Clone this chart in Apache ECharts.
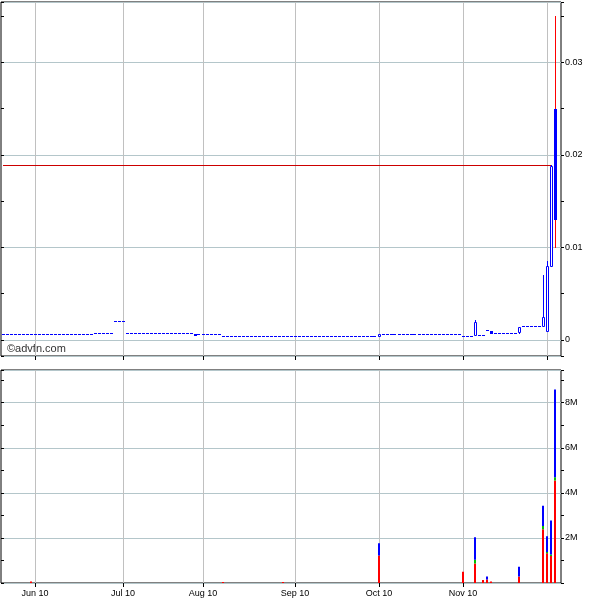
<!DOCTYPE html>
<html><head><meta charset="utf-8">
<script src="https://cdn.jsdelivr.net/npm/echarts@6/dist/echarts.min.js"></script>
<style>html,body{margin:0;padding:0;background:#fff}#c{width:600px;height:600px}</style>
</head><body><div id="c"></div>
<script>
// ---- categories: trading days ----
const startDate = '2010-05-19';
const endDate = '2010-12-06';
const holidays = ['2010-05-31', '2010-07-05', '2010-09-06', '2010-11-25'];

// month grid lines and their labels
const monthLines = ['2010-06-01', '2010-07-01', '2010-07-30', '2010-09-01', '2010-10-01', '2010-11-01', '2010-12-01'];
const monthLabels = ['Jun 10', 'Jul 10', 'Aug 10', 'Sep 10', 'Oct 10', 'Nov 10', ''];

// ---- price: close per trading day (from 2010-05-19) ----
const closes = [
  0.00057, 0.00057, 0.00057, 0.00057, 0.00057, 0.00057, 0.00057, 0.00057, 0.00057, 0.00057,
  0.00057, 0.00057, 0.00057, 0.00057, 0.00057, 0.00057, 0.00057, 0.00057, 0.00057, 0.00057,
  0.00057, 0.00057, 0.00057,
  0.0006, 0.0006, 0.0006, 0.0006, 0.0006,
  0.0019, 0.0019, 0.0019,
  0.00065, 0.00065, 0.00065, 0.00065, 0.00065, 0.00065, 0.00065, 0.00065, 0.00065, 0.00065,
  0.00065, 0.00065, 0.00065, 0.00065, 0.00065, 0.00065, 0.00065,
  0.0006,
  0.00054, 0.00054, 0.00054, 0.00054, 0.00054, 0.00054,
  0.0003, 0.0003, 0.0003, 0.0003, 0.0003, 0.0003, 0.0003, 0.0003, 0.0003, 0.0003,
  0.0003, 0.0003, 0.0003, 0.0003, 0.0003, 0.0003, 0.0003, 0.0003, 0.0003, 0.0003,
  0.0003, 0.0003, 0.0003, 0.0003, 0.0003, 0.0003, 0.0003, 0.0003, 0.0003, 0.0003,
  0.0003, 0.0003, 0.0003, 0.0003, 0.0003, 0.0003, 0.0003, 0.0003, 0.0003,
  0.0006,
  0.00057, 0.00057, 0.00057, 0.00057, 0.00057,
  0.0005, 0.0005, 0.0005, 0.0005, 0.0005, 0.0005, 0.0005, 0.0005, 0.0005, 0.0005,
  0.0005, 0.0005, 0.0005, 0.0005, 0.0005,
  0.0003, 0.0003, 0.0003,
  0.0019,
  0.00043, 0.00043,
  0.00097,
  0.0006,
  0.00065, 0.00065, 0.00065, 0.00065, 0.00065, 0.00065,
  0.00137,
  0.00144, 0.00144, 0.00144, 0.00144, 0.00144,
  0.0025,
  0.008,
  0.0188,
  0.013
];
// days whose open/high/low differ from the close
const oddDays = ['2010-07-28', '2010-10-01', '2010-11-04', '2010-11-10', '2010-11-19', '2010-11-30', '2010-12-01', '2010-12-02', '2010-12-03'];
const oddOpen = [0.0007, 0.0003, 0.0004, 0.00097, 0.0008, 0.00137, 0.0009, 0.0079, 0.025];
const oddHigh = [0.0007, 0.0006, 0.0022, 0.00097, 0.00137, 0.007, 0.0085, 0.0189, 0.035];
const oddLow  = [0.0006, 0.0003, 0.0004, 0.0006, 0.0006, 0.00137, 0.0009, 0.0079, 0.00995];
const refLine = 0.0189;
const refLineEnd = '2010-12-02';

// ---- volume (millions) ----
const volDays  = ['2010-05-28', '2010-08-06', '2010-08-27', '2010-10-01', '2010-11-01', '2010-11-04', '2010-11-08', '2010-11-09', '2010-11-10', '2010-11-19', '2010-11-30', '2010-12-01', '2010-12-02', '2010-12-03'];
const volRed   = [0.07, 0.03, 0.03, 1.22, 0.50, 0.87, 0.13, 0.16, 0.07, 0.29, 2.38, 1.32, 1.20, 4.55];
const volGreen = [0, 0, 0, 0, 0, 0.16, 0, 0, 0, 0, 0.15, 0.06, 0.06, 0.14];
const volBlue  = [0, 0, 0, 0.54, 0, 1.00, 0, 0.13, 0, 0.43, 0.90, 0.69, 1.51, 3.90];

// ---- build categories ----
function fmt(d) { return d.toISOString().slice(0, 10); }
const dates = [];
for (let d = new Date(startDate + 'T00:00:00Z'); fmt(d) <= endDate; d.setUTCDate(d.getUTCDate() + 1)) {
  const wd = d.getUTCDay();
  const s = fmt(d);
  if (wd !== 0 && wd !== 6 && holidays.indexOf(s) < 0) dates.push(s);
}

const BLUE = '#0000ff', RED = '#ff0000', GREEN = '#00c000';

const priceData = closes.map(function (c, i) {
  const day = dates[i];
  const j = oddDays.indexOf(day);
  if (j >= 0) return [day, oddOpen[j], c, oddLow[j], oddHigh[j]];
  return [day, c, c, c, c];
});
const volData = volDays.map(function (d, i) {
  return [d, volRed[i] * 1e6, volGreen[i] * 1e6, volBlue[i] * 1e6];
});

function renderPrice(params, api) {
  const idx = api.value(0);
  const o = api.value(1), c = api.value(2), l = api.value(3), h = api.value(4);
  const p = api.coord([idx, o]);
  const x = p[0];
  const yO = p[1], yC = api.coord([idx, c])[1], yL = api.coord([idx, l])[1], yH = api.coord([idx, h])[1];
  const left = Math.round(x - 1.5);
  const mid = left + 1.5;
  const ch = [];
  if (o === c && h === l) {
    ch.push({ type: 'rect', shape: { x: left, y: Math.round(yC) - 1, width: 3, height: 1 }, style: { fill: BLUE } });
  } else {
    const up = c >= o;
    const top = Math.round(Math.min(yO, yC)), bot = Math.round(Math.max(yO, yC));
    const wc = up ? BLUE : RED;
    if (Math.round(yH) < top) ch.push({ type: 'line', shape: { x1: mid, y1: Math.round(yH), x2: mid, y2: top }, style: { stroke: wc, lineWidth: 1 } });
    if (Math.round(yL) > bot) ch.push({ type: 'line', shape: { x1: mid, y1: bot, x2: mid, y2: Math.round(yL) }, style: { stroke: wc, lineWidth: 1 } });
    if (up) {
      ch.push({ type: 'rect', shape: { x: left + 0.5, y: top + 0.5, width: 2, height: Math.max(bot - top - 1, 1) }, style: { fill: '#fff', stroke: BLUE, lineWidth: 1 } });
    } else {
      ch.push({ type: 'rect', shape: { x: left, y: top, width: 3, height: Math.max(bot - top, 2) }, style: { fill: BLUE } });
    }
  }
  return { type: 'group', children: ch };
}

function renderVol(params, api) {
  const idx = api.value(0);
  const r = api.value(1), g = api.value(2), b = api.value(3);
  const p0 = api.coord([idx, 0]);
  const left = Math.round(p0[0] - 1);
  const y0 = p0[1];
  const y1 = api.coord([idx, r])[1];
  const y2 = api.coord([idx, r + g])[1];
  const y3 = api.coord([idx, r + g + b])[1];
  const ch = [];
  function seg(ya, yb, color) {
    const hgt = Math.max(ya - yb, 1);
    ch.push({ type: 'rect', shape: { x: left, y: ya - hgt, width: 2, height: hgt }, style: { fill: color } });
  }
  if (r > 0) seg(y0, y1, RED);
  if (g > 0) seg(y1, y2, GREEN);
  if (b > 0) seg(y2, y3, BLUE);
  return { type: 'group', children: ch };
}

const FONT = '"Liberation Sans", Arial, sans-serif';
const tickFn = function (i, v) { return monthLines.indexOf(v) >= 0 && v !== '2010-12-01'; };
const lineFn = function (i, v) { return monthLines.indexOf(v) >= 0; };

function xAxisFor(gi, showLabels) {
  return {
    type: 'category', gridIndex: gi, data: dates, boundaryGap: true, position: 'bottom',
    axisLine: { show: false, onZero: false },
    axisTick: { show: true, interval: gi === 0 ? lineFn : tickFn, alignWithLabel: true, length: 4, lineStyle: { color: '#000' } },
    axisLabel: {
      show: showLabels, interval: tickFn, margin: 6, color: '#000', fontSize: 9, fontFamily: FONT,
      formatter: function (v) { const j = monthLines.indexOf(v); return j >= 0 ? monthLabels[j] : ''; }
    },
    splitLine: { show: true, interval: lineFn, alignWithLabel: true, lineStyle: { color: '#c0c0c0', width: 1 } }
  };
}

const pMin = -0.00173, pMax = 0.03654;
const vMin = 0, vMax = 9.45e6;

const option = {
  animation: false,
  backgroundColor: '#fff',
  grid: [
    { left: 1, top: 2, width: 560, height: 354, show: true, borderColor: '#000', borderWidth: 1, backgroundColor: '#fff' },
    { left: 1, top: 370, width: 560, height: 213, show: true, borderColor: '#000', borderWidth: 1, backgroundColor: '#fff' }
  ],
  xAxis: [xAxisFor(0, false), xAxisFor(1, true)],
  yAxis: [
    { type: 'value', gridIndex: 0, position: 'right', min: pMin, max: pMax, splitNumber: 8,
      axisLine: { show: false }, splitLine: { show: false },
      axisTick: { show: true, length: 3, lineStyle: { color: '#000' } },
      axisLabel: { margin: 4, color: '#000', fontSize: 9, fontFamily: FONT,
        formatter: function (v) { const r = Math.round(v * 100); if (Math.abs(v * 100 - r) > 1e-6) return ''; return r === 0 ? '0' : (r / 100).toFixed(2); } } },
    { type: 'value', gridIndex: 0, position: 'left', min: pMin, max: pMax, splitNumber: 8,
      axisLine: { show: false }, splitLine: { show: false }, axisLabel: { show: false },
      axisTick: { show: true, inside: true, length: 3, lineStyle: { color: '#000' } } },
    { type: 'value', gridIndex: 0, position: 'right', min: pMin, max: pMax, splitNumber: 4,
      axisLine: { show: false }, axisTick: { show: false }, axisLabel: { show: false },
      splitLine: { show: true, lineStyle: { color: '#b4c6ca', width: 1 } } },
    { type: 'value', gridIndex: 1, position: 'right', min: vMin, max: vMax, interval: 1e6,
      axisLine: { show: false }, splitLine: { show: false },
      axisTick: { show: true, length: 3, lineStyle: { color: '#000' } },
      axisLabel: { margin: 4, color: '#000', fontSize: 9, fontFamily: FONT,
        formatter: function (v) { const m = Math.round(v / 1e6); if (Math.abs(v - m * 1e6) > 1 || m === 0 || m % 2) return ''; return m + 'M'; } } },
    { type: 'value', gridIndex: 1, position: 'left', min: vMin, max: vMax, interval: 1e6,
      axisLine: { show: false }, splitLine: { show: false }, axisLabel: { show: false },
      axisTick: { show: true, inside: true, length: 3, lineStyle: { color: '#000' } } },
    { type: 'value', gridIndex: 1, position: 'right', min: vMin, max: vMax, interval: 2e6,
      axisLine: { show: false }, axisTick: { show: false }, axisLabel: { show: false },
      splitLine: { show: true, lineStyle: { color: '#b4c6ca', width: 1 } } }
  ],
  series: [
    { type: 'custom', xAxisIndex: 0, yAxisIndex: 0, data: priceData, renderItem: renderPrice,
      encode: { x: 0, y: [1, 2, 3, 4] }, clip: true, z: 3,
      markLine: { silent: true, symbol: 'none', z: 4, label: { show: false },
        lineStyle: { color: '#cc0000', width: 1, type: 'solid' },
        data: [[{ coord: [dates[0], refLine] }, { coord: [refLineEnd, refLine] }]] } },
    { type: 'custom', xAxisIndex: 1, yAxisIndex: 3, data: volData, renderItem: renderVol,
      encode: { x: 0, y: [1, 2, 3] }, z: 3 }
  ],
  graphic: [
    { type: 'text', left: 7, top: 343, style: { text: '©advfn.com', fill: '#333', font: '11px "Liberation Sans", Arial, sans-serif' } }
  ]
};

const chart = echarts.init(document.getElementById('c'), null, { renderer: 'canvas' });
chart.setOption(option);
</script>
</body></html>
